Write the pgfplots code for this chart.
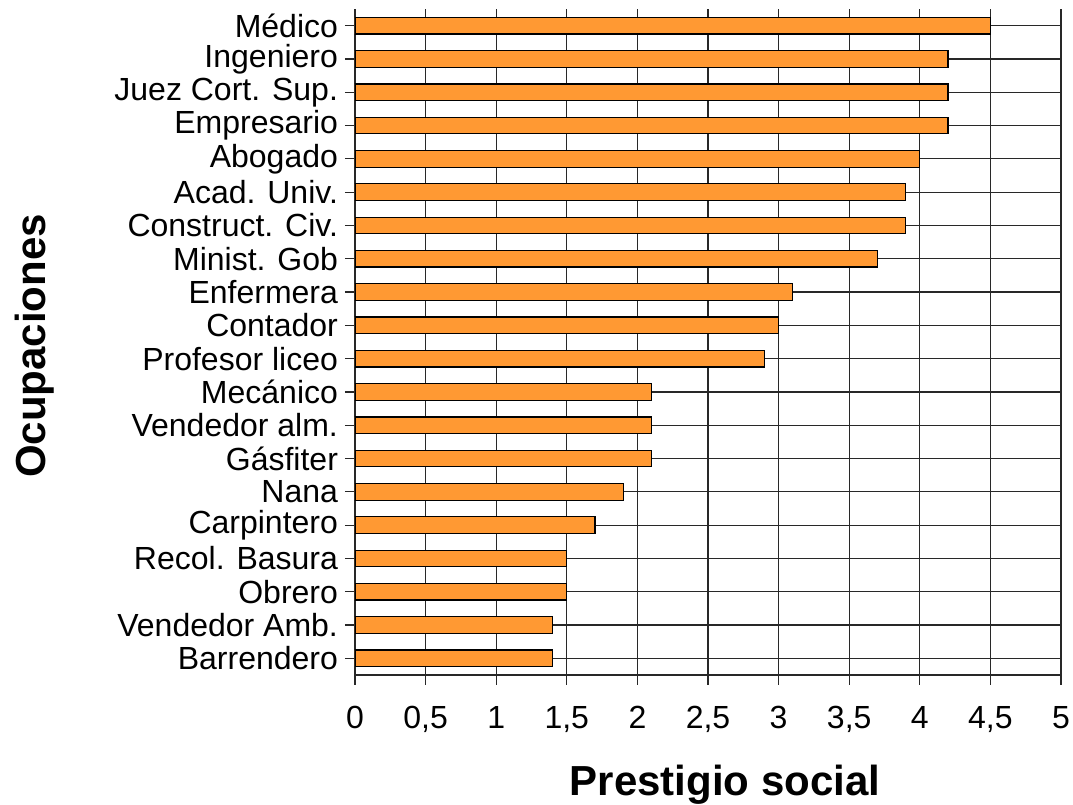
\documentclass[border=0pt]{standalone}
\usepackage{pgfplots}
\pgfplotsset{compat=1.18}
\usepackage{fontspec}
\setmainfont{Liberation Sans}
\definecolor{barorange}{RGB}{255,153,51}
\definecolor{gridgray}{RGB}{40,40,40}

\begin{document}
\begin{tikzpicture}
\begin{axis}[
    width=353pt, height=333pt, scale only axis,
    xmin=0, xmax=5, ymin=-0.5, ymax=19.5,
    xbar, bar width=0.5,
    axis x line=bottom, axis y line=left,
    hide obscured x ticks=false, hide obscured y ticks=false,
    axis line style={gridgray, line width=0.6pt, -},
    xtick={0,0.5,...,5},
    ytick={0,...,19},
    yticklabels={Barrendero, Vendedor Amb., Obrero, Recol. Basura, Carpintero, Nana, Gásfiter, Vendedor alm., Mecánico, Profesor liceo, Contador, Enfermera, Minist. Gob, Construct. Civ., Acad. Univ., Abogado, Empresario, Juez Cort. Sup., Ingeniero, Médico},
    tick align=outside, major tick length=5pt,
    tick style={gridgray, line width=0.6pt},
    grid=major, major grid style={gridgray, line width=0.6pt},
    /pgf/number format/use comma,
    /pgf/number format/assume math mode=true,
    ticklabel style={font=\fontsize{16}{19}\selectfont},
    xticklabel style={yshift=-7pt},
    xlabel={Prestigio social},
    ylabel={Ocupaciones},
    label style={font=\fontsize{21}{25}\bfseries},
    xlabel style={at={(axis description cs:0.524,0)}, anchor=base, yshift=-60pt},
    ylabel style={at={(axis description cs:-0.4533,0.494)}, anchor=center},
]
\addplot[fill=barorange, draw=black, line width=0.6pt] coordinates {
    (1.4,0) (1.4,1) (1.5,2) (1.5,3) (1.7,4) (1.9,5) (2.1,6) (2.1,7) (2.1,8) (2.9,9)
    (3.0,10) (3.1,11) (3.7,12) (3.9,13) (3.9,14) (4.0,15) (4.2,16) (4.2,17) (4.2,18) (4.5,19)
};
\coordinate (SW) at (rel axis cs:0,0);
\coordinate (NE) at (rel axis cs:1,1);
\end{axis}
\pgfresetboundingbox
\path ([shift={(-177.5pt,-65pt)}]SW) rectangle ([shift={(6pt,4.5pt)}]NE);
\end{tikzpicture}
\end{document}
